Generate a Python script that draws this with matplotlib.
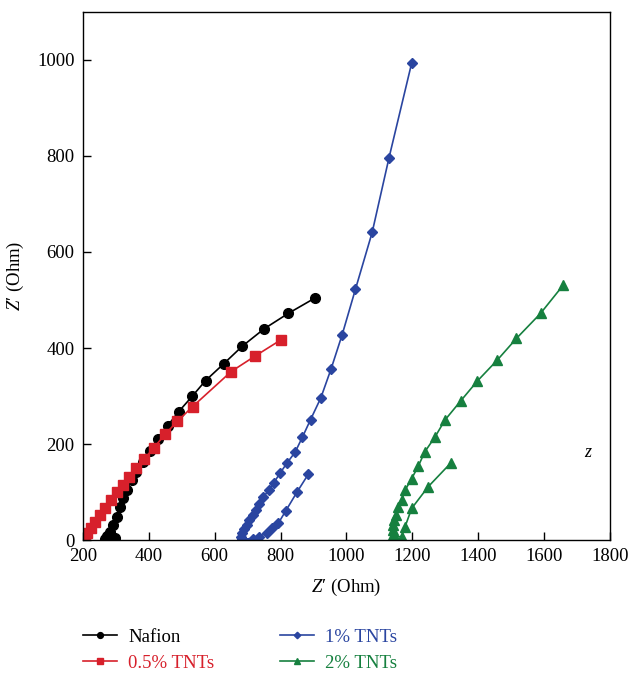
import numpy as np
import matplotlib.pyplot as plt

plt.rcParams['font.family'] = ['Liberation Serif', 'DejaVu Serif']
plt.rcParams['mathtext.fontset'] = 'custom'
plt.rcParams['mathtext.rm'] = 'Liberation Serif'
plt.rcParams['mathtext.it'] = 'Liberation Serif:italic'

# data (Z' vs Z'', Ohm)
nafion_x = [297, 268, 272, 282, 292, 302, 312, 322, 333, 348, 360, 383, 403,
            429, 457, 490, 531, 572, 627, 684, 750, 823, 904]
nafion_y = [5, 2, 8, 17, 31, 48, 69, 87, 104, 125, 142, 163, 186,
            210, 238, 267, 299, 332, 367, 404, 440, 472, 504]

tnt05_x = [206, 213, 224, 236, 252, 267, 284, 302, 320, 341, 360, 386, 415,
           449, 486, 533, 650, 722, 801]
tnt05_y = [3, 14, 24, 38, 52, 67, 83, 99, 115, 132, 149, 169, 192,
           220, 247, 278, 351, 383, 417]

tnt1_x = [884, 849, 815, 793, 773, 758, 735, 715, 682, 679, 683, 689, 697, 705,
          715, 725, 735, 747, 764, 779, 799, 819, 844, 866, 891, 922, 953,
          987, 1027, 1078, 1129, 1198]
tnt1_y = [137, 99, 60, 35, 24, 15, 7, 3, 2, 7, 14, 22, 31, 42,
          52, 62, 74, 89, 104, 119, 140, 160, 183, 214, 251, 296, 356,
          428, 522, 641, 796, 994]

tnt2_x = [1316, 1248, 1198, 1178, 1167, 1147, 1142, 1142, 1142, 1145, 1150,
          1157, 1167, 1178, 1198, 1218, 1238, 1269, 1299, 1347, 1397, 1458,
          1516, 1589, 1658]
tnt2_y = [160, 111, 66, 28, 7, 7, 10, 21, 31, 42, 52,
          68, 83, 104, 128, 154, 184, 215, 250, 290, 331, 375,
          420, 472, 531]

black = '#000000'
red = '#d7202b'
blue = '#2a45a0'
green = '#16803f'

fig = plt.figure(figsize=(6.32, 6.73), dpi=100)
ax = fig.add_axes([0.1313, 0.1976, 0.8339, 0.7846])

ax.plot(nafion_x, nafion_y, '-o', color=black, lw=1.2, ms=7, label='Nafion')
ax.plot(tnt05_x, tnt05_y, '-s', color=red, lw=1.2, ms=7, label='0.5% TNTs')
ax.plot(tnt1_x, tnt1_y, '-D', color=blue, lw=1.2, ms=5.5, label='1% TNTs')
ax.plot(tnt2_x, tnt2_y, '-^', color=green, lw=1.2, ms=7, label='2% TNTs')

ax.set_xlim(200, 1800)
ax.set_ylim(0, 1100)
ax.set_xticks(np.arange(200, 1801, 200))
ax.set_yticks(np.arange(0, 1001, 200))
ax.tick_params(direction='in', length=6, width=1, labelsize=13.5, pad=6)
for s in ax.spines.values():
    s.set_linewidth(1)

ax.set_xlabel("$Z$\u2032 (Ohm)", fontsize=13.5, labelpad=8)
ax.set_ylabel("$Z$\u2032 (Ohm)", fontsize=13.5, labelpad=8)

ax.text(1733, 183, 'z', fontsize=13, style='italic', ha='center', va='center')

leg = fig.legend(loc='upper left', bbox_to_anchor=(0.111, 0.085),
                 ncol=2, frameon=False, fontsize=13.5, markerscale=0.6,
                 handlelength=1.8, handletextpad=0.6, columnspacing=3.5,
                 labelspacing=0.45, labelcolor='linecolor', borderpad=0.2)

fig.savefig('out.png', dpi=100)
